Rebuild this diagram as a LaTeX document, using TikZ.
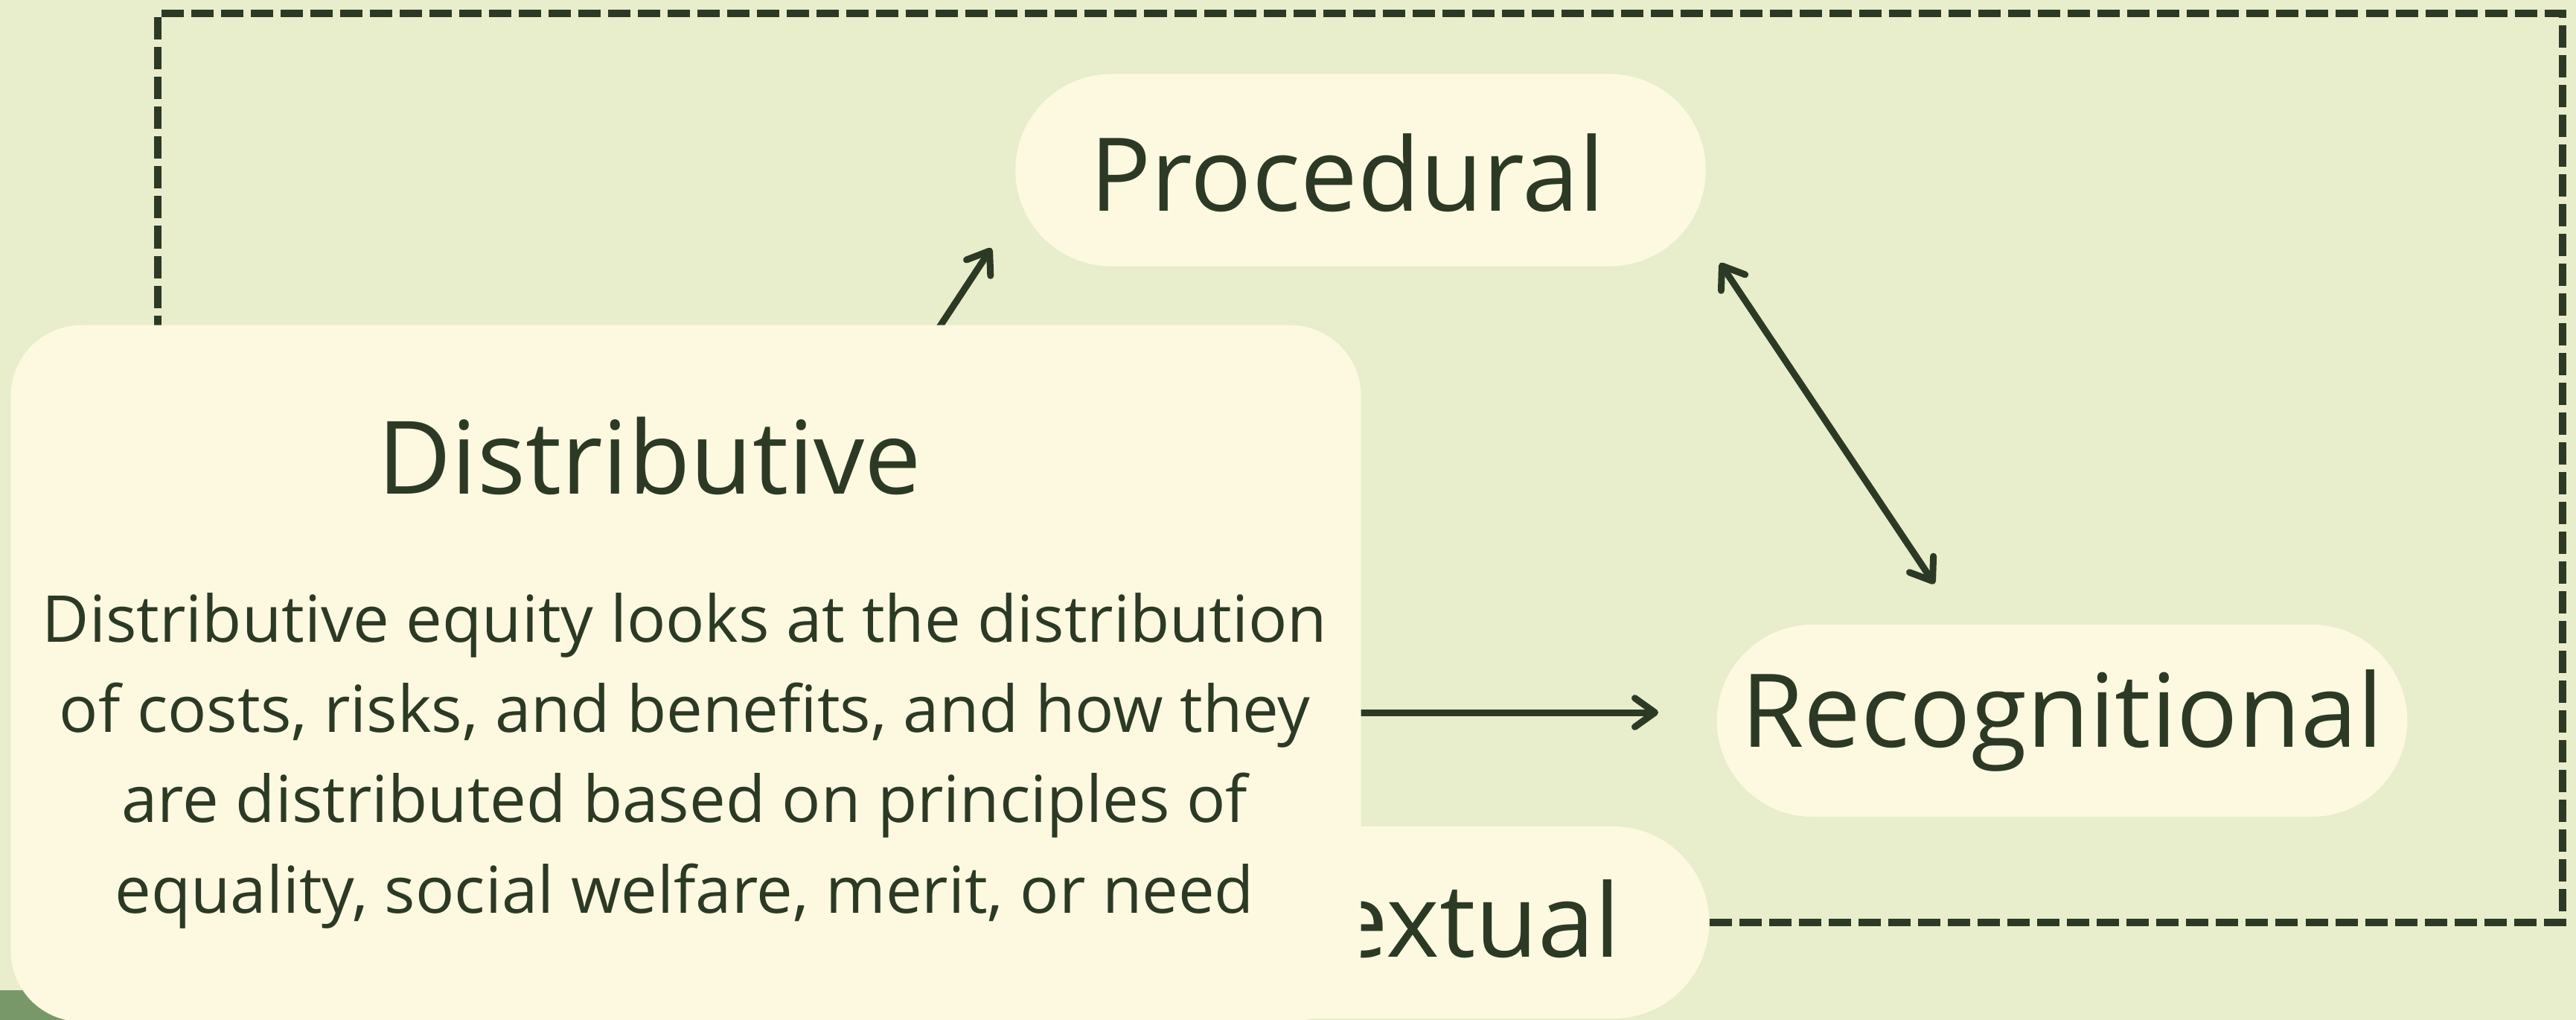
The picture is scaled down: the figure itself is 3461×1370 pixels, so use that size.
\documentclass[tikz,border=0pt]{standalone}
\usepackage{fontspec}
\setmainfont{Open Sans}
\usetikzlibrary{arrows.meta,calc}
\definecolor{bgc}{HTML}{E8EDCC}
\definecolor{boxc}{HTML}{FDF9E1}
\definecolor{ink}{HTML}{2C3A25}
\definecolor{stripc}{HTML}{789869}
\begin{document}
\begin{tikzpicture}[x=0.01cm,y=-0.01cm,
  pill/.style={fill=boxc, rounded corners=1.29cm, minimum width=9.27cm, minimum height=2.58cm,
    inner sep=0pt, text=ink, text depth=0pt, font=\fontsize{38.9pt}{46pt}\selectfont},
  bigbox/.style={fill=boxc, rounded corners=0.95cm, minimum width=18.13cm, minimum height=9.35cm, inner sep=0pt},
  titletext/.style={anchor=base, inner sep=0pt, text=ink, font=\fontsize{38.7pt}{46pt}\selectfont},
  bodytext/.style={anchor=base, inner sep=0pt, text=ink, font=\fontsize{24.7pt}{34.4pt}\selectfont},
  arr/.style={draw=ink, line width=2.56pt, line cap=round, -{Straight Barb[length=7.7pt,width=11pt,round]}},
  dblarr/.style={draw=ink, line width=2.56pt, line cap=round, {Straight Barb[length=7.7pt,width=11pt,round]}-{Straight Barb[length=7.7pt,width=11pt,round]}},
  dashline/.style={draw=ink, line width=2.85pt, dash pattern=on 0.3cm off 0.1cm}
]
\useasboundingbox (0,0) rectangle (3461,1370);
\fill[bgc] (0,0) rectangle (3461,1370);
\fill[stripc] (0,1330) rectangle (1700,1370);

% hidden anchor of the Distributive item and end of dashed connector
\coordinate (dp) at (921,957);
\coordinate (dashend) at (212,700);
\coordinate (dashtr) at (3443,18);

% pills
\node[pill, text height=1.09cm] (proc) at (1828,228.5) {Procedural\hspace*{0.36cm}};
\node[pill, text height=0.70cm] (reco) at (2770.5,968) {Recognitional};
\node[pill, text height=0.92cm] (ctx) at (1832.5,1239) {Contextual};

% connectors
\draw[dashline] (ctx.east) -| (dashtr) -| (dashend);
\draw[arr] (dp) -- ([shift={(-31.5,-25)}]proc.south west);
\draw[arr] (dp) -- ([shift={(-78,-11)}]reco.west);
\draw[dblarr] ([shift={(18.5,-5)}]proc.south east) -- ([shift={(293,-54)}]reco.north west);

% expanded Distributive card
\node[bigbox] (dist) at (921.5,904.5) {};
\node[titletext] (dtitle) at (873,663) {Distributive};
\node[bodytext] (dl1) at (920,862) {Distributive equity looks at the distribution};
\node[bodytext] (dl2) at (920,983) {of costs, risks, and benefits, and how they};
\node[bodytext] (dl3) at (920,1104) {are distributed based on principles of};
\node[bodytext] (dl4) at (920,1226) {equality, social welfare, merit, or need};
\end{tikzpicture}
\end{document}
